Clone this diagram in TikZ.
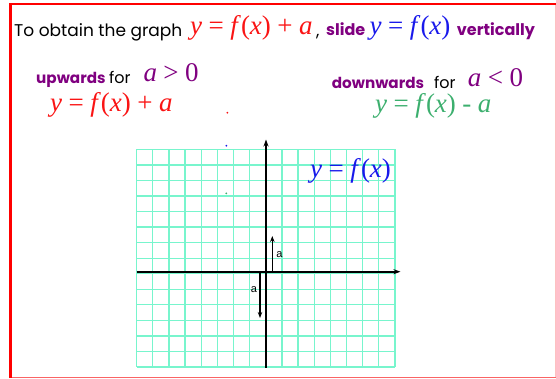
\documentclass[tikz,border=0pt]{standalone}
\usepackage{fontspec}
\newfontfamily\comic{Poppins}
\newfontfamily\tnr{Liberation Serif}
\newfontfamily\arial{Liberation Sans}
\usetikzlibrary{arrows.meta}
\definecolor{ppl}{RGB}{128,0,128}
\definecolor{eqred}{RGB}{250,20,20}
\definecolor{eqblue}{RGB}{25,25,235}
\definecolor{eqgreen}{RGB}{60,175,110}
\definecolor{gridc}{RGB}{120,245,205}
\definecolor{frameb}{RGB}{250,100,100}
\newcommand\eqsp{\hspace{0.24em}}
\newcommand\yfx{\textit{y}\eqsp=\eqsp\textit{f}(\textit{x})}
\tikzset{
  txt/.style={anchor=base west, inner sep=0pt, font=\comic\fontsize{17}{17}\selectfont},
  stxt/.style={anchor=base west, inner sep=0pt, text depth=0pt, font=\comic\fontsize{16}{16}\selectfont},
  btxt/.style={anchor=base west, inner sep=0pt, text=ppl, font=\comic\bfseries\fontsize{16}{16}\selectfont},
  sbtxt/.style={anchor=base west, inner sep=0pt, text depth=0pt, text=ppl, font=\comic\bfseries\fontsize{15.2}{15.2}\selectfont},
  eq/.style={anchor=base west, inner sep=0pt, text height=0.68em, font=\tnr\fontsize{27}{27}\selectfont},
  axis/.style={line width=1.6pt, -{Stealth[length=7pt,width=5pt]}},
  shiftarrow/.style={line width=1.6pt, -{Stealth[length=6pt,width=4.5pt]}},
  lbl/.style={inner sep=0pt, font=\arial\fontsize{11}{11}\selectfont},
  dot/.style={circle, inner sep=0pt, minimum size=2pt}
}
\begin{document}
\begin{tikzpicture}[x=1pt,y=-1pt]
\useasboundingbox (0,0) rectangle (556,378);
% frame
\draw[frameb!40, line width=0.8pt] (555.3,4) -- (555.3,377.3);
\draw[frameb, line width=1.5pt] (10.7,377.3) -- (556,377.3);
\draw[red, line width=2.6pt] (10.7,378) -- (10.7,4) -- (556,4);
% grid
\foreach \i in {0,...,16} \draw[gridc, line width=1.3pt] (136.7+\i*16.14,149.3) -- (136.7+\i*16.14,367);
\foreach \j in {0,...,14} \draw[gridc, line width=1.3pt] (136.7,149.3+\j*15.55) -- (395,149.3+\j*15.55);
% axes
\coordinate (xa) at (136.7,271.7);
\coordinate (xb) at (400.5,271.7);
\coordinate (ya) at (266,367.5);
\coordinate (yb) at (266,139.5);
\draw[axis] (xa) -- (xb);
\draw[axis] (ya) -- (yb);
% shift arrows
\coordinate (ua) at (272.3,271.7);
\coordinate (ub) at (272.3,236);
\coordinate (da) at (260,271.7);
\coordinate (db) at (260,318);
\draw[shiftarrow] (ua) -- (ub);
\draw[shiftarrow] (da) -- (db);
\node[lbl] (la1) at (279.5,255) {a};
\node[lbl] (la2) at (254,290) {a};
% dots
\node[dot, fill=eqred] (d1) at (227.3,112.7) {};
\node[dot, fill=eqblue] (d2) at (226.3,145.7) {};
\node[dot, fill=eqgreen] (d3) at (226.3,193.3) {};
% line 1
\node[txt] (t1) at (14,36.7) {To obtain the graph};
\node[eq, text=eqred] (e1) at (190,34) {\yfx\eqsp+\eqsp\textit{a}};
\node[txt] (comma) at (316,36) {,};
\node[btxt] (slide) at (326,35.5) {slide};
\node[eq, text=eqblue] (e2) at (369.5,34) {\yfx};
\node[btxt] (vert) at (456.7,35.5) {vertically};
% line 2 left
\node[sbtxt] (up) at (36,83.3) {upwards};
\node[stxt] (for1) at (109,83.3) {for};
\node[eq, text=ppl] (c1) at (143.3,81.7) {\textit{a}\eqsp\textgreater\eqsp0};
\node[eq, text=eqred] (e3) at (50,111.7) {\yfx\eqsp+\eqsp\textit{a}};
% line 2 right
\node[sbtxt] (down) at (331.7,88.3) {downwards};
\node[stxt] (for2) at (434,88.3) {for};
\node[eq, text=ppl] (c2) at (467.7,86) {\textit{a}\eqsp\textless\eqsp0};
\node[eq, text=eqgreen] (e4) at (375,112) {\yfx\eqsp-\eqsp\textit{a}};
% graph label
\node[eq, text=eqblue] (e5) at (310,177.7) {\yfx};
\end{tikzpicture}
\end{document}
